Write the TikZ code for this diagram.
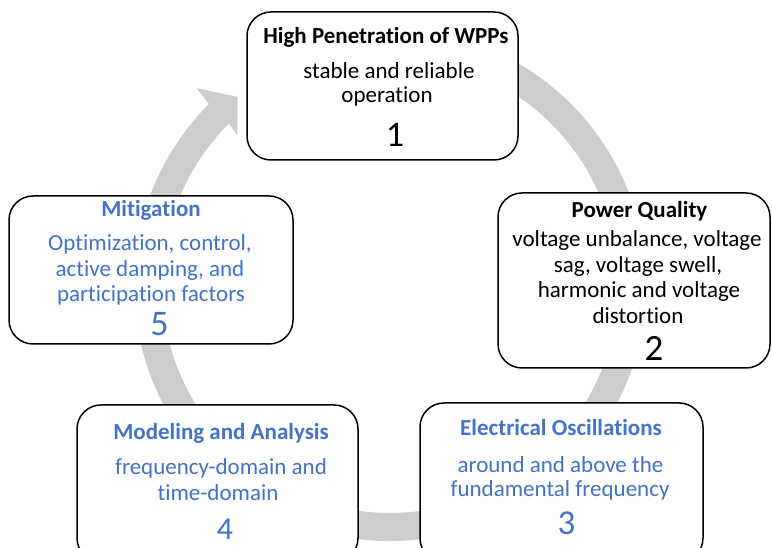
\documentclass[tikz,border=0pt]{standalone}
\usepackage{fontspec}
\setmainfont{Carlito}[Ligatures=NoCommon]
\usetikzlibrary{calc}
\definecolor{ringgray}{RGB}{205,205,205}
\definecolor{txtblue}{RGB}{68,114,196}
\tikzset{
  card/.style={draw=black, line width=1.5pt, fill=white, rounded corners=24pt, inner sep=0pt},
  ttl/.style={anchor=base, inner sep=0pt, font=\fontsize{23}{25}\selectfont\bfseries},
  bodyln/.style={anchor=base, inner sep=0pt, font=\fontsize{23}{25}\selectfont},
  numln/.style={anchor=base, inner sep=0pt, font=\fontsize{#1}{#1}\selectfont},
}
\begin{document}
\begin{tikzpicture}[x=1pt,y=1pt]
\clip (0,0) rectangle (772,548);
\fill[white] (0,0) rectangle (772,548);
\coordinate (C) at (390,263);
% circular arrow
\fill[ringgray] ($(C)+(100:256)$) arc[start angle=100, end angle=-225, radius=256]
  -- ($(C)+(134.5:276)$) -- ($(C)+(129:242)$) -- ($(C)+(135.5:214)$)
  -- ($(C)+(-225:228)$) arc[start angle=-225, end angle=100, radius=228] -- cycle;
% boxes
\node[card, minimum width=271, minimum height=148] (b1) at (382.5,462) {};
\node[card, minimum width=272, minimum height=175] (b2) at (634,267.5) {};
\node[card, minimum width=284, minimum height=148] (b5) at (151,278) {};
\node[card, minimum width=281, minimum height=157] (b4) at (217.5,64.5) {};
\node[card, minimum width=283, minimum height=159] (b3) at (561.5,65.5) {};
% box 1
\node[ttl] (t1) at (386,504) {High Penetration of WPPs};
\node[bodyln] (l1a) at (389,469) {stable and reliable};
\node[bodyln] (l1b) at (387,445) {operation};
\node[numln=36] (n1) at (395,401) {1};
% box 2
\node[ttl] (t2) at (639.5,330) {Power Quality};
\node[bodyln] (l2a) at (637,301) {voltage unbalance, voltage};
\node[bodyln] (l2b) at (638,275.5) {sag, voltage swell,};
\node[bodyln] (l2c) at (639,250) {harmonic and voltage};
\node[bodyln] (l2d) at (638,224.5) {distortion};
\node[numln=37] (n2) at (654,187) {2};
% box 5
\node[ttl, text=txtblue] (t5) at (151,331) {Mitigation};
\node[bodyln, text=txtblue] (l5a) at (150,297) {Optimization, control,};
\node[bodyln, text=txtblue] (l5b) at (150,271) {active damping, and};
\node[bodyln, text=txtblue] (l5c) at (151,246) {participation factors};
\node[numln=36, text=txtblue] (n5) at (159.5,212) {5};
% box 4
\node[ttl, text=txtblue] (t4) at (221,108) {Modeling and Analysis};
\node[bodyln, text=txtblue] (l4a) at (221,73) {frequency-domain and};
\node[bodyln, text=txtblue] (l4b) at (218,47) {time-domain};
\node[numln=32, text=txtblue] (n4) at (225,8) {4};
% box 3
\node[ttl, text=txtblue] (t3) at (561,112) {Electrical Oscillations};
\node[bodyln, text=txtblue] (l3a) at (560.5,75) {around and above the};
\node[bodyln, text=txtblue] (l3b) at (560,51) {fundamental frequency};
\node[numln=35, text=txtblue] (n3) at (566.5,13) {3};
\end{tikzpicture}
\end{document}
